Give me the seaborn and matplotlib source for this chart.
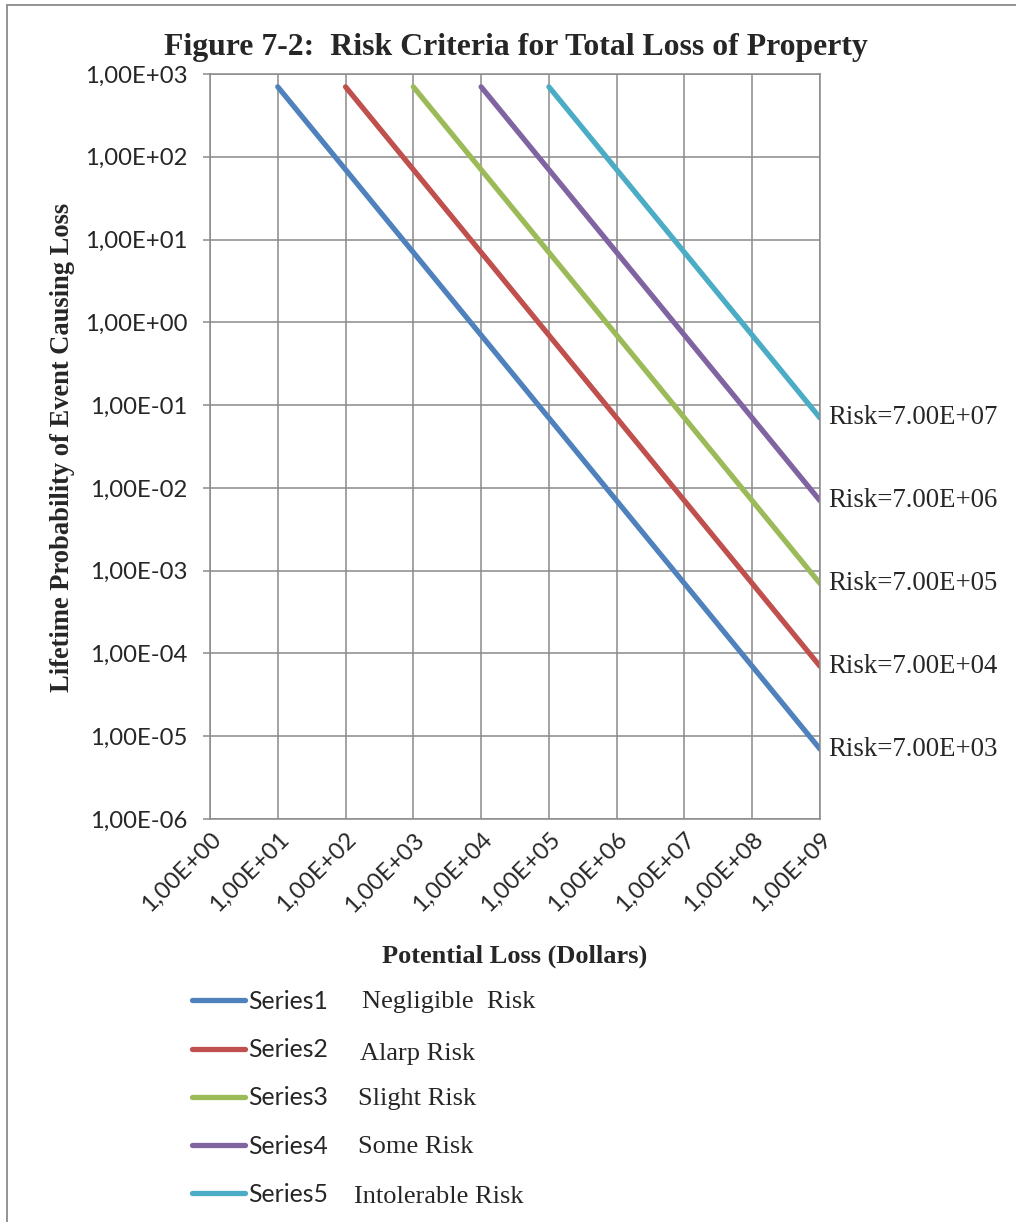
import pandas as pd
import matplotlib
matplotlib.use('Agg')
import matplotlib.pyplot as plt
import matplotlib.patches as patches
import seaborn as sns

# data (risk = probability x loss)
series_names = ['Series1', 'Series2', 'Series3', 'Series4', 'Series5']
risk_names = ['Negligible  Risk', 'Alarp Risk', 'Slight Risk', 'Some Risk', 'Intolerable Risk']
risk_labels = ['Risk=7.00E+03', 'Risk=7.00E+04', 'Risk=7.00E+05', 'Risk=7.00E+06', 'Risk=7.00E+07']

loss_s1 = [1e1, 1e2, 1e3, 1e4, 1e5, 1e6, 1e7, 1e8, 1e9]
prob_s1 = [700, 70, 7, 0.7, 0.07, 0.007, 7e-4, 7e-5, 7e-6]
loss_s2 = [1e2, 1e3, 1e4, 1e5, 1e6, 1e7, 1e8, 1e9]
prob_s2 = [700, 70, 7, 0.7, 0.07, 0.007, 7e-4, 7e-5]
loss_s3 = [1e3, 1e4, 1e5, 1e6, 1e7, 1e8, 1e9]
prob_s3 = [700, 70, 7, 0.7, 0.07, 0.007, 7e-4]
loss_s4 = [1e4, 1e5, 1e6, 1e7, 1e8, 1e9]
prob_s4 = [700, 70, 7, 0.7, 0.07, 0.007]
loss_s5 = [1e5, 1e6, 1e7, 1e8, 1e9]
prob_s5 = [700, 70, 7, 0.7, 0.07]

xticks = [1e0, 1e1, 1e2, 1e3, 1e4, 1e5, 1e6, 1e7, 1e8, 1e9]
xtick_labels = ['1,00E+00', '1,00E+01', '1,00E+02', '1,00E+03', '1,00E+04',
                '1,00E+05', '1,00E+06', '1,00E+07', '1,00E+08', '1,00E+09']
yticks = [1e-6, 1e-5, 1e-4, 1e-3, 1e-2, 1e-1, 1e0, 1e1, 1e2, 1e3]
ytick_labels = ['1,00E-06', '1,00E-05', '1,00E-04', '1,00E-03', '1,00E-02',
                '1,00E-01', '1,00E+00', '1,00E+01', '1,00E+02', '1,00E+03']

colors = ['#4F81BD', '#C0504D', '#9BBB59', '#8064A2', '#4BACC6']
gray = '#8a8a8a'

frames = []
for name, xs, ys in zip(series_names,
                        [loss_s1, loss_s2, loss_s3, loss_s4, loss_s5],
                        [prob_s1, prob_s2, prob_s3, prob_s4, prob_s5]):
    frames.append(pd.DataFrame({'series': name, 'loss': xs, 'prob': ys}))
df = pd.concat(frames, ignore_index=True)

sns.set_style('white')
plt.rcParams['font.family'] = ['Lato', 'DejaVu Sans']

fig = plt.figure(figsize=(10.16, 12.22), dpi=100)
ax = fig.add_axes([210 / 1016, 1 - 819 / 1222, 610 / 1016, 745 / 1222])

sns.lineplot(data=df, x='loss', y='prob', hue='series', palette=colors,
             linewidth=3.8, sort=False, estimator=None, legend=False, ax=ax,
             solid_capstyle='round')

ax.set_xscale('log')
ax.set_yscale('log')
ax.set_xlim(1e0, 1e9)
ax.set_ylim(1e-6, 1e3)
ax.set_xticks(xticks)
ax.set_xticklabels(xtick_labels, rotation=45, ha='right', va='top',
                   rotation_mode='anchor', fontsize=17.2)
ax.set_yticks(yticks)
ax.set_yticklabels(ytick_labels, fontsize=17.2)
ax.minorticks_off()
ax.tick_params(axis='y', length=5, width=1.1, color=gray, pad=11, direction='out', left=True)
ax.tick_params(axis='x', length=0, pad=7, bottom=True)
ax.grid(True, which='major', color=gray, linewidth=1.1)
for sp in ax.spines.values():
    sp.set_color(gray)
    sp.set_linewidth(1.1)
ax.set_xlabel('')
ax.set_ylabel('')

serif = 'Liberation Serif'
fig.text(0.508, 1 - 47 / 1222, 'Figure 7-2:  Risk Criteria for Total Loss of Property',
         ha='center', va='center', fontsize=22.9, fontweight='bold', family=serif)
fig.text(63 / 1016, 1 - 447 / 1222, 'Lifetime Probability of Event Causing Loss',
         ha='center', va='center', rotation=90, fontsize=19.1, fontweight='bold', family=serif)
fig.text(515 / 1016, 1 - 956 / 1222, 'Potential Loss (Dollars)',
         ha='center', va='center', fontsize=19, fontweight='bold', family=serif)

# labels at the line ends
ends = [prob_s1[-1], prob_s2[-1], prob_s3[-1], prob_s4[-1], prob_s5[-1]]
for lab, yv in zip(risk_labels, ends):
    ax.annotate(lab, xy=(1e9, yv), xytext=(6, 0), textcoords='offset points',
                ha='left', va='center', fontsize=19.3, family=serif,
                annotation_clip=False)

# legend
leg = ax.legend(ax.get_lines()[:5], series_names, loc='upper left',
                bbox_to_anchor=(192 / 1016, 1 - 990 / 1222),
                bbox_transform=fig.transFigure, frameon=False, fontsize=17.8,
                handlelength=2.15, handletextpad=0.12, labelspacing=1.02,
                borderpad=0, borderaxespad=0)
for h in leg.get_lines():
    h.set_linewidth(3.8)

desc_x = [362, 360, 358, 358, 354]
desc_y = [1002, 1054, 1099, 1147, 1197]
for txt, xx, yy in zip(risk_names, desc_x, desc_y):
    fig.text(xx / 1016, 1 - yy / 1222, txt, ha='left', va='center',
             fontsize=19, family=serif)

# outer frame
fig.patches.append(patches.Rectangle((7 / 1016, -0.05), 1.1, 1 - 5 / 1222 + 0.05,
                                     transform=fig.transFigure, fill=False,
                                     edgecolor=gray, linewidth=1.3))

fig.savefig('out.png', dpi=100)
